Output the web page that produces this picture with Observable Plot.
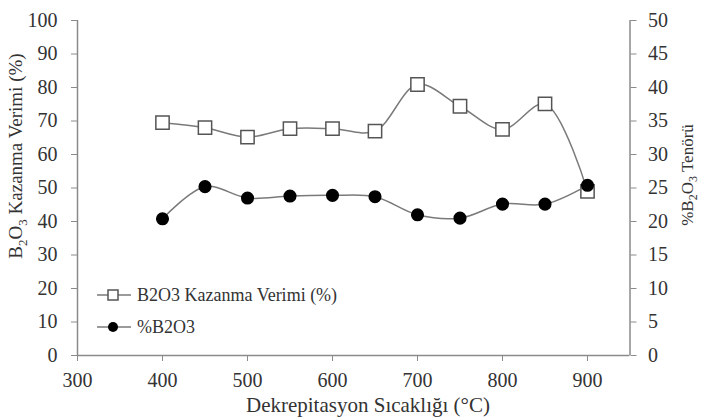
<!DOCTYPE html>
<html>
<head>
<meta charset="utf-8">
<script src="https://cdn.jsdelivr.net/npm/d3@7"></script>
<script src="https://cdn.jsdelivr.net/npm/@observablehq/plot@0.6"></script>
<style>
html,body{margin:0;padding:0;background:#fff;}
#chart svg, #chart svg text, #chart svg tspan { font-family: "Liberation Serif", "Times New Roman", "DejaVu Serif", serif !important; }
</style>
</head>
<body>
<div id="chart"></div>
<script>
const temps = [400, 450, 500, 550, 600, 650, 700, 750, 800, 850, 900];
const recoveryYield = [69.5, 68.0, 65.2, 67.7, 67.7, 67.0, 80.9, 74.4, 67.5, 75.1, 49.0];
const b2o3Grade = [20.4, 25.2, 23.5, 23.8, 23.9, 23.7, 21.0, 20.5, 22.6, 22.6, 25.4];
const xTicks = [300, 400, 500, 600, 700, 800, 900];
const leftTicks = [0, 10, 20, 30, 40, 50, 60, 70, 80, 90, 100];
const rightTicks = [0, 5, 10, 15, 20, 25, 30, 35, 40, 45, 50];
const seriesNames = ["B2O3 Kazanma Verimi (%)", "%B2O3"];

const yieldData = temps.map((t, i) => ({t, v: recoveryYield[i]}));
const gradeData = temps.map((t, i) => ({t, v: b2o3Grade[i]}));
const ratio = 100 / 50; // right axis 0–50 mapped onto left 0–100

const axisColor = "#8a8a8a";
const lineColor = "#7a7a7a";
const textColor = "#333";

const svg = Plot.plot({
  width: 707,
  height: 417,
  marginLeft: 77,
  marginRight: 77.5,
  marginTop: 20,
  marginBottom: 62,
  style: {fontFamily: "'Liberation Serif', 'Times New Roman', serif", fontSize: "20px", color: textColor, background: "#fff"},
  x: {domain: [300, 950]},
  y: {domain: [0, 100]},
  marks: [
    Plot.axisX({ticks: xTicks, tickSize: 6, tickPadding: 11, label: null, stroke: axisColor, fill: textColor, tickFormat: d => String(d)}),
    Plot.axisY({ticks: leftTicks, tickSize: 6, tickPadding: 14, label: null, stroke: axisColor, fill: textColor}),
    Plot.axisY({anchor: "right", ticks: rightTicks.map(d => d * ratio), tickSize: 6, tickPadding: 12, label: null, stroke: axisColor, fill: textColor, tickFormat: d => String(d / ratio)}),
    Plot.ruleX([300, 950], {stroke: axisColor, strokeWidth: 1.5}),
    Plot.ruleY([0], {stroke: axisColor, strokeWidth: 1.5}),
    Plot.line(yieldData, {x: "t", y: "v", curve: "catmull-rom", stroke: lineColor, strokeWidth: 1.5}),
    Plot.dot(yieldData, {x: "t", y: "v", symbol: "square", r: 7.5, fill: "white", stroke: "#555", strokeWidth: 1.5}),
    Plot.line(gradeData, {x: "t", y: d => d.v * ratio, curve: "catmull-rom", stroke: lineColor, strokeWidth: 1.5}),
    Plot.dot(gradeData, {x: "t", y: d => d.v * ratio, r: 5.8, fill: "#000", stroke: "#000"})
  ]
});

document.getElementById("chart").appendChild(svg);

const s = d3.select(svg);

// X title
s.append("text")
  .attr("x", 368).attr("y", 412)
  .attr("text-anchor", "middle")
  .attr("font-size", 21).attr("fill", textColor)
  .text("Dekrepitasyon Sıcaklığı (°C)");

function subTitle(g, parts, size) {
  const t = g.append("text")
    .attr("text-anchor", "middle")
    .attr("font-size", size).attr("fill", textColor);
  const subSize = Math.round(size * 0.7);
  const shift = Math.round(size * 0.25);
  parts.forEach(([txt, sub]) => {
    t.append("tspan")
      .attr("font-size", sub === 1 ? subSize : size)
      .attr("dy", sub === 1 ? shift : sub === -1 ? -shift : 0)
      .text(txt);
  });
  return t;
}

// Left title
const gl = s.append("g").attr("transform", "translate(22,156) rotate(-90)");
subTitle(gl, [["B", 0], ["2", 1], ["O", -1], ["3", 1], [" Kazanma Verimi (%)", -1]], 19);

// Right title
const gr = s.append("g").attr("transform", "translate(693,175) rotate(-90)");
subTitle(gr, [["%B", 0], ["2", 1], ["O", -1], ["3", 1], [" Tenörü", -1]], 17);

// Legend
const leg = s.append("g").attr("font-size", 18).attr("fill", textColor);
const rows = [
  {y: 295, kind: "square", name: seriesNames[0]},
  {y: 327, kind: "circle", name: seriesNames[1]}
];
rows.forEach(r => {
  leg.append("line").attr("x1", 97).attr("x2", 131).attr("y1", r.y).attr("y2", r.y)
    .attr("stroke", lineColor).attr("stroke-width", 1.5);
  if (r.kind === "square") {
    leg.append("rect").attr("x", 113 - 5).attr("y", r.y - 5).attr("width", 10).attr("height", 10)
      .attr("fill", "white").attr("stroke", "#555").attr("stroke-width", 1.5);
  } else {
    leg.append("circle").attr("cx", 113).attr("cy", r.y).attr("r", 5).attr("fill", "#000");
  }
  leg.append("text").attr("x", 137).attr("y", r.y).attr("dy", "0.35em")
    .attr("text-anchor", "start").text(r.name);
});
</script>
</body>
</html>
